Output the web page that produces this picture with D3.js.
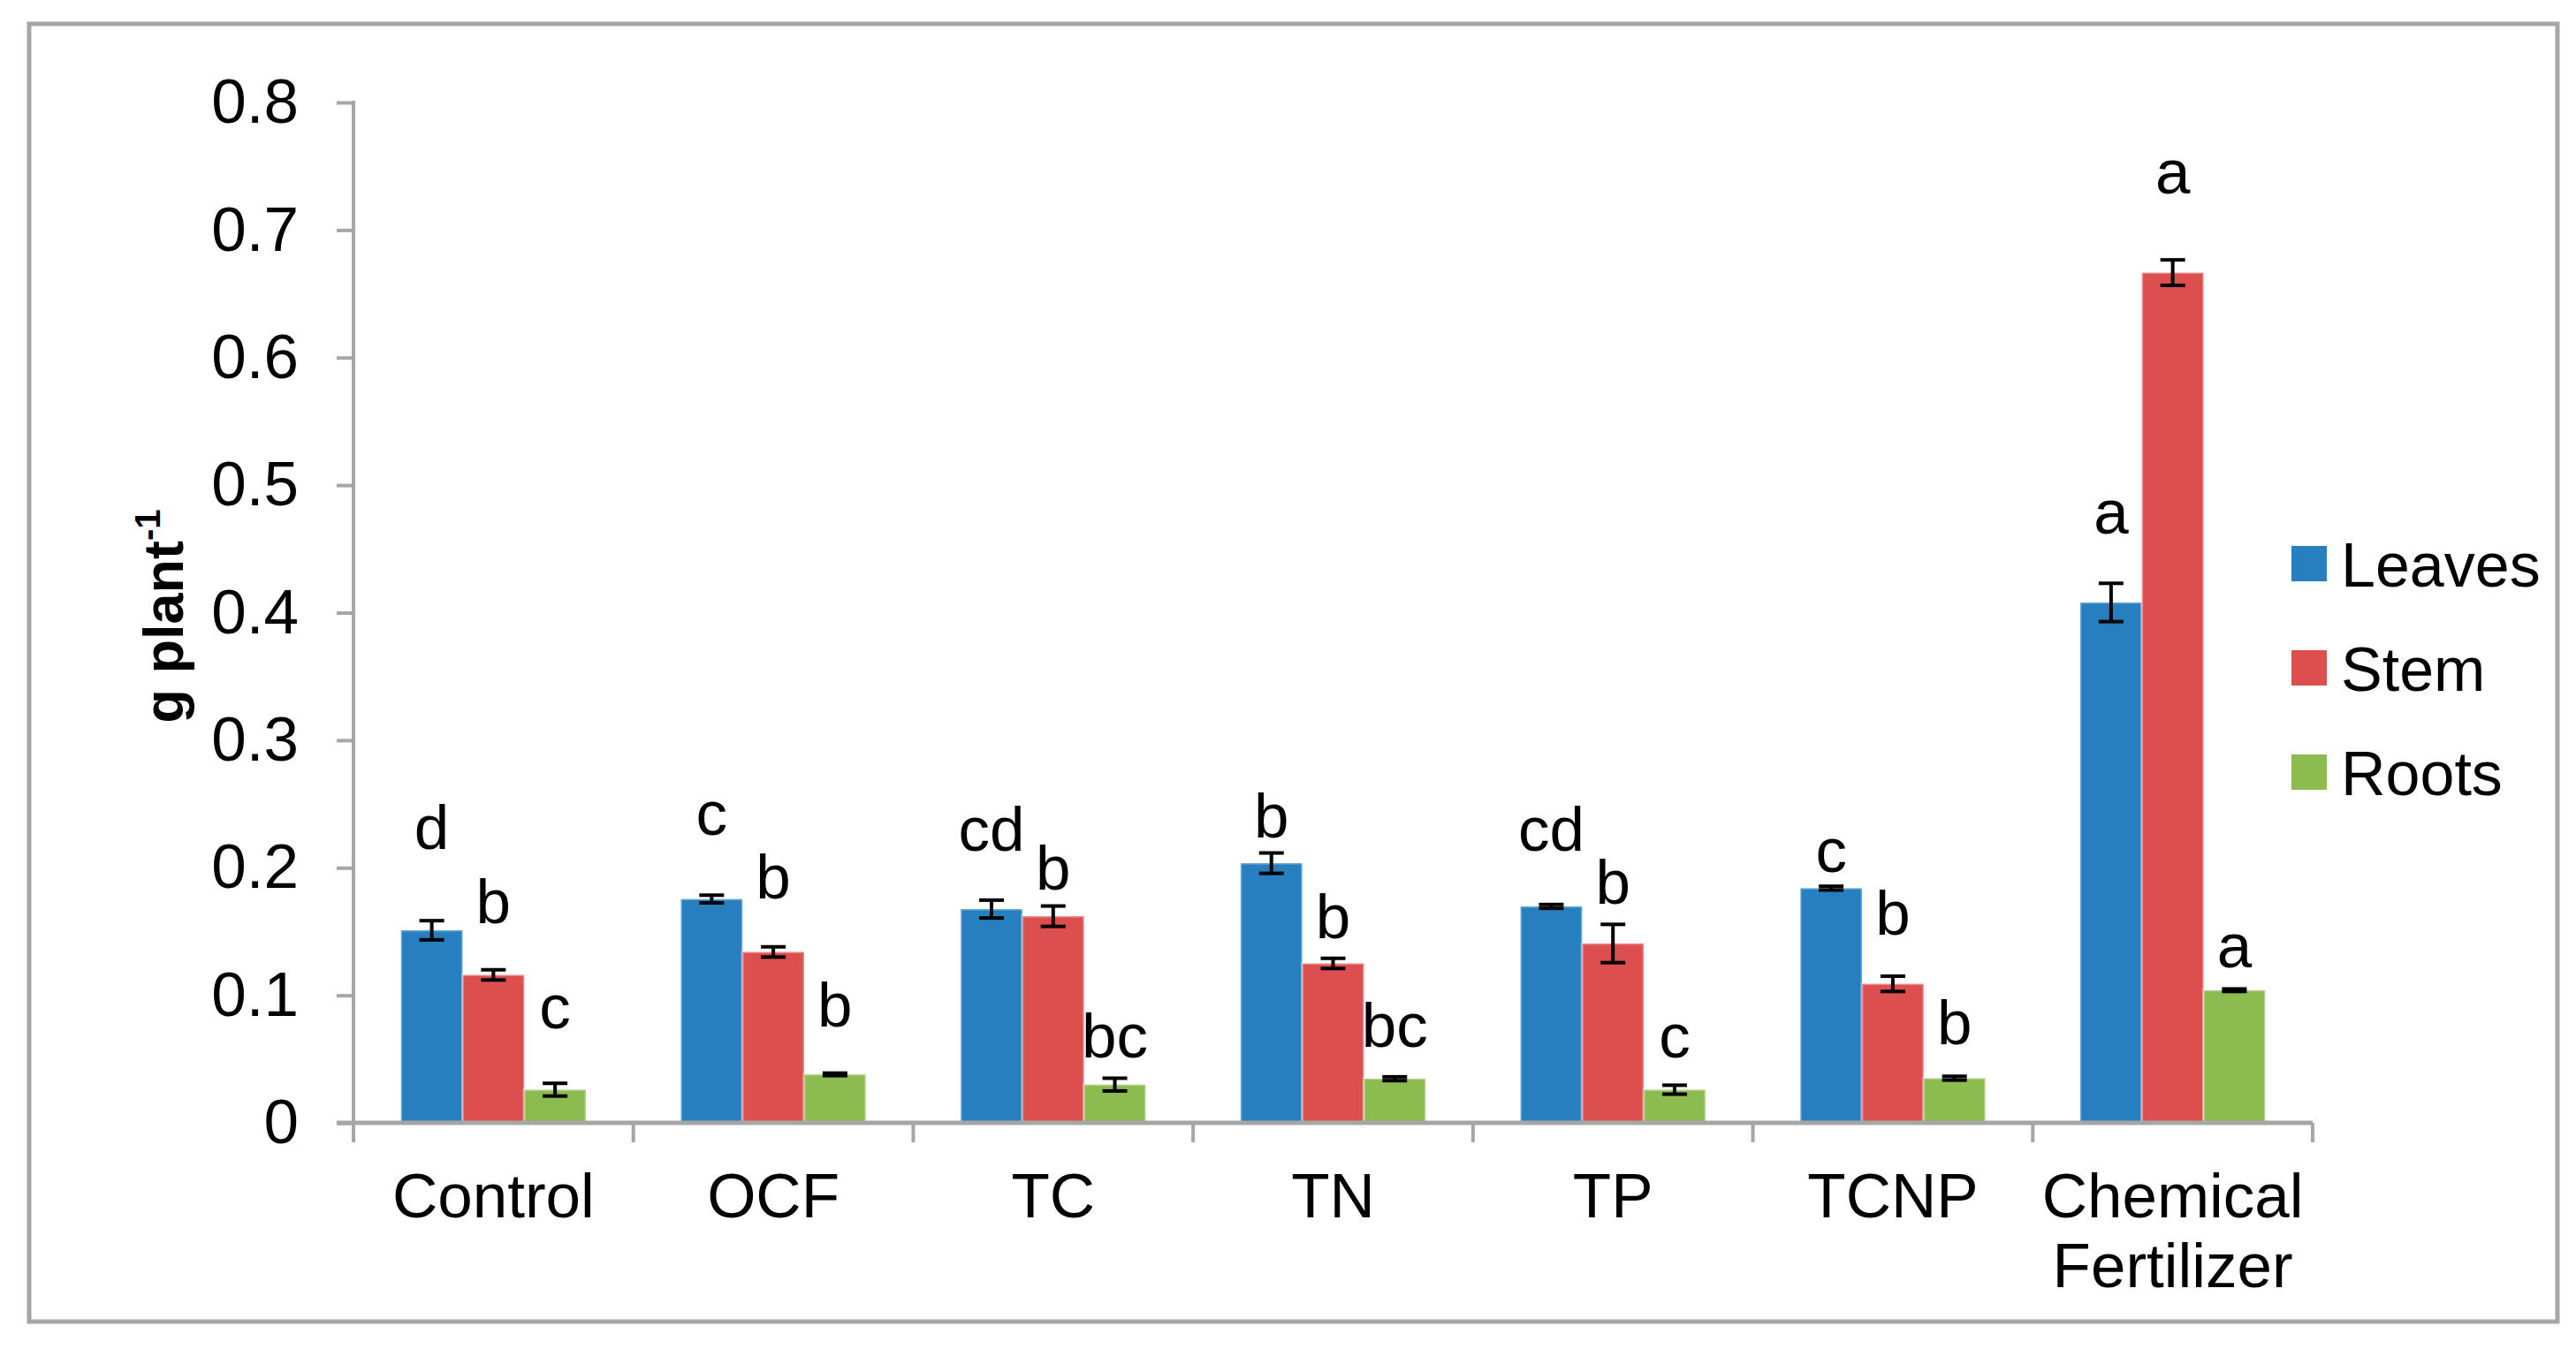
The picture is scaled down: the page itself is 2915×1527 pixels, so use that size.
<!DOCTYPE html>
<html>
<head>
<meta charset="utf-8">
<script src="https://cdn.jsdelivr.net/npm/d3@7"></script>
<style>
  html, body { margin: 0; padding: 0; background: #fff; }
  svg { display: block; font-family: "Liberation Sans", Arial, sans-serif; }
</style>
</head>
<body>
<div id="chart"></div>
<script>
// Treatments (x categories)
var categories = ["Control", "OCF", "TC", "TN", "TP", "TCNP", "Chemical Fertilizer"];
var series = ["Leaves", "Stem", "Roots"];
var colors = ["#2680c0", "#dd4f4f", "#8cbb50"];

// Mean dry weight, g plant-1
var leaves = [0.151, 0.1755, 0.1676, 0.2036, 0.1697, 0.184, 0.408];
var stem   = [0.116, 0.134, 0.162, 0.125, 0.1406, 0.109, 0.6666];
var roots  = [0.026, 0.038, 0.030, 0.0346, 0.026, 0.035, 0.104];

// Standard errors
var leavesErr = [0.0075, 0.003, 0.007, 0.008, 0.0015, 0.0015, 0.015];
var stemErr   = [0.004, 0.004, 0.008, 0.004, 0.015, 0.006, 0.01];
var rootsErr  = [0.005, 0.001, 0.005, 0.0015, 0.0035, 0.0015, 0.001];

// Significance letters and the value height where each one sits
var leavesLetters = ["d", "c", "cd", "b", "cd", "c", "a"];
var stemLetters   = ["b", "b", "b", "b", "b", "b", "a"];
var rootsLetters  = ["c", "b", "bc", "bc", "c", "b", "a"];
var leavesLetterY = [0.2147, 0.2258, 0.213, 0.224, 0.213, 0.197, 0.462];
var stemLetterY   = [0.1565, 0.1756, 0.183, 0.145, 0.172, 0.1475, 0.729];
var rootsLetterY  = [0.074, 0.0758, 0.051, 0.0596, 0.051, 0.0616, 0.122];

var yTicks = [0, 0.1, 0.2, 0.3, 0.4, 0.5, 0.6, 0.7, 0.8];

var values = [leaves, stem, roots];
var errors = [leavesErr, stemErr, rootsErr];
var letters = [leavesLetters, stemLetters, rootsLetters];
var letterY = [leavesLetterY, stemLetterY, rootsLetterY];

var W = 2915, H = 1527;
var margin = {top: 116, left: 400, right: 298, bottom: 256};
var fontSize = 71;
var axisColor = "#a6a6a6";

var svg = d3.select("#chart")
  .append("svg")
    .attr("width", W)
    .attr("height", H);

// outer frame
svg.append("rect")
  .attr("x", 33).attr("y", 27)
  .attr("width", 2861).attr("height", 1469)
  .attr("fill", "#fff")
  .attr("stroke", axisColor)
  .attr("stroke-width", 5);

var x0 = d3.scaleBand()
  .domain(categories)
  .range([margin.left, W - margin.right])
  .paddingInner(0).paddingOuter(0);

var x1 = d3.scaleBand()
  .domain(series)
  .range([0, x0.bandwidth()])
  .paddingInner(0)
  .paddingOuter(0.77);

var y = d3.scaleLinear()
  .domain([0, 0.8])
  .range([H - margin.bottom, margin.top]);

// Build records
var records = [];
series.forEach(function(s, si) {
  categories.forEach(function(c, ci) {
    records.push({
      cat: c, series: s, si: si,
      value: values[si][ci],
      err: errors[si][ci],
      letter: letters[si][ci],
      ly: letterY[si][ci]
    });
  });
});

// Bars
svg.append("g")
  .selectAll("rect")
  .data(records)
  .enter()
  .append("rect")
    .attr("x", function(d) { return x0(d.cat) + x1(d.series); })
    .attr("y", function(d) { return y(d.value); })
    .attr("width", x1.bandwidth())
    .attr("height", function(d) { return y(0) - y(d.value); })
    .attr("fill", function(d) { return colors[d.si]; })
    .attr("stroke", "rgba(255,255,255,0.3)")
    .attr("stroke-width", 3);

// Error bars
var eb = svg.append("g")
  .selectAll("g")
  .data(records)
  .enter()
  .append("g")
    .attr("transform", function(d) {
      return "translate(" + (x0(d.cat) + x1(d.series) + x1.bandwidth() / 2) + ",0)";
    });
eb.append("line")
  .attr("y1", function(d) { return y(d.value - d.err); })
  .attr("y2", function(d) { return y(d.value + d.err); })
  .attr("stroke", "#000").attr("stroke-width", 4);
eb.append("line")
  .attr("x1", -14).attr("x2", 14)
  .attr("y1", function(d) { return y(d.value + d.err); })
  .attr("y2", function(d) { return y(d.value + d.err); })
  .attr("stroke", "#000").attr("stroke-width", 4);
eb.append("line")
  .attr("x1", -14).attr("x2", 14)
  .attr("y1", function(d) { return y(d.value - d.err); })
  .attr("y2", function(d) { return y(d.value - d.err); })
  .attr("stroke", "#000").attr("stroke-width", 4);

// Significance letters
svg.append("g")
  .selectAll("text")
  .data(records)
  .enter()
  .append("text")
    .attr("x", function(d) { return x0(d.cat) + x1(d.series) + x1.bandwidth() / 2; })
    .attr("y", function(d) { return y(d.ly); })
    .attr("text-anchor", "middle")
    .attr("font-size", fontSize)
    .attr("fill", "#000")
    .text(function(d) { return d.letter; });

// Y axis
var yAxis = svg.append("g")
  .attr("transform", "translate(" + margin.left + ",0)")
  .call(d3.axisLeft(y)
    .tickValues(yTicks)
    .tickSize(19)
    .tickPadding(43)
    .tickFormat(function(d) { return String(+d.toFixed(1)); }));
yAxis.select(".domain").remove();
yAxis.selectAll(".tick line").attr("stroke", axisColor).attr("stroke-width", 4);
yAxis.selectAll(".tick text")
  .attr("font-size", fontSize)
  .attr("font-family", "Liberation Sans, Arial, sans-serif")
  .attr("fill", "#000");
svg.append("line")
  .attr("x1", margin.left).attr("x2", margin.left)
  .attr("y1", y(0.8) - 2).attr("y2", y(0) + 22)
  .attr("stroke", axisColor).attr("stroke-width", 4);

// X axis line and category boundary ticks
svg.append("line")
  .attr("x1", margin.left - 19).attr("x2", x0.range()[1])
  .attr("y1", y(0)).attr("y2", y(0))
  .attr("stroke", axisColor).attr("stroke-width", 5);
var bounds = categories.map(function(c) { return x0(c); }).concat([x0.range()[1]]);
svg.append("g")
  .selectAll("line")
  .data(bounds.slice(1))
  .enter()
  .append("line")
    .attr("x1", function(d) { return d; })
    .attr("x2", function(d) { return d; })
    .attr("y1", y(0)).attr("y2", y(0) + 22)
    .attr("stroke", axisColor).attr("stroke-width", 4);

// Category labels
var xl = svg.append("g")
  .selectAll("text")
  .data(categories)
  .enter()
  .append("text")
    .attr("x", function(d) { return x0(d) + x0.bandwidth() / 2; })
    .attr("y", y(0) + 107)
    .attr("text-anchor", "middle")
    .attr("font-size", fontSize)
    .attr("fill", "#000");
xl.each(function(d) {
  var words = d === "Chemical Fertilizer" ? ["Chemical", "Fertilizer"] : [d];
  var t = d3.select(this);
  words.forEach(function(w, i) {
    t.append("tspan")
      .attr("x", x0(d) + x0.bandwidth() / 2)
      .attr("dy", i === 0 ? 0 : 79)
      .text(w);
  });
});

// Y axis title
var yt = svg.append("text")
  .attr("transform", "translate(207," + ((y(0) + y(0.8)) / 2 + 4) + ") rotate(-90)")
  .attr("text-anchor", "middle")
  .attr("font-size", 63)
  .attr("font-weight", "bold")
  .attr("fill", "#000");
yt.append("tspan").text("g plant");
yt.append("tspan")
  .attr("font-size", 40)
  .attr("dy", -26)
  .text("-1");

// Legend
var legend = svg.append("g")
  .selectAll("g")
  .data(series)
  .enter()
  .append("g")
    .attr("transform", function(d, i) {
      return "translate(2593," + (618 + i * 118) + ")";
    });
legend.append("rect")
  .attr("width", 40).attr("height", 40)
  .attr("fill", function(d, i) { return colors[i]; });
legend.append("text")
  .attr("x", 56)
  .attr("y", 46)
  .attr("font-size", 70)
  .attr("fill", "#000")
  .text(function(d) { return d; });
</script>
</body>
</html>
